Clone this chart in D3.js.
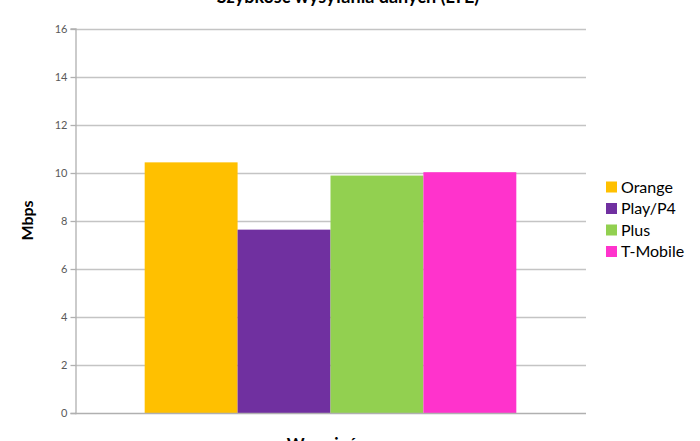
<!DOCTYPE html>
<html>
<head>
<meta charset="utf-8">
<script src="https://cdn.jsdelivr.net/npm/d3@7"></script>
<style>
  body { margin: 0; background: #fff; }
  svg { display: block; font-family: Lato, "Open Sans", sans-serif; }
</style>
</head>
<body>
<div id="chart"></div>
<script>
// data
var categories = ["Wrzesień"];
var seriesNames = ["Orange", "Play/P4", "Plus", "T-Mobile"];
var seriesValues = [10.43, 7.63, 9.88, 10.02];
var seriesColors = ["#FFC000", "#7030A0", "#92D050", "#FF33CC"];
var yTicks = [0, 2, 4, 6, 8, 10, 12, 14, 16];

//Width and height
var w = 700;
var h = 441;

//plot area (no "top" here, it clashes with window.top)
var plotLeft = 75, plotRight = 586, plotTop = 28.5, plotBottom = 413;

var svg = d3.select("#chart")
    .append("svg")
    .attr("width", w)
    .attr("height", h);

var y = d3.scaleLinear()
    .domain([0, 16])
    .range([plotBottom, plotTop]);

// gap width 150% like the spreadsheet default
var x0 = d3.scaleBand()
    .domain(categories)
    .range([plotLeft, plotRight])
    .paddingInner(0)
    .paddingOuter(0.1875);

var x1 = d3.scaleBand()
    .domain(seriesNames)
    .range([0, x0.bandwidth()]);

//gridlines
svg.append("g")
    .selectAll("line")
    .data(yTicks.slice(1))
    .enter().append("line")
    .attr("x1", plotLeft)
    .attr("x2", plotRight)
    .attr("y1", function (d) { return Math.round(y(d)) + 0.5; })
    .attr("y2", function (d) { return Math.round(y(d)) + 0.5; })
    .style("stroke", "#c4c4c4")
    .style("stroke-width", 1.3);

//y axis
var yAxis = d3.axisLeft(y)
    .tickValues(yTicks)
    .tickSize(5)
    .tickPadding(3);

var gy = svg.append("g")
    .attr("transform", "translate(" + (plotLeft + 0.5) + ",0)")
    .call(yAxis);
gy.select(".domain").style("stroke", "#b0b0b0").style("stroke-width", 1.3);
gy.selectAll(".tick line").style("stroke", "#b0b0b0").style("stroke-width", 1.3);
gy.selectAll(".tick").attr("transform", function (d) {
    return "translate(0," + (Math.round(y(d)) + 0.5) + ")";
});
gy.selectAll(".tick text")
    .style("font-family", "Lato, sans-serif")
    .style("font-size", "11px")
    .style("fill", "#595959");

//bars
var groups = svg.append("g")
    .selectAll("g")
    .data(categories)
    .enter().append("g")
    .attr("transform", function (d) { return "translate(" + x0(d) + ",0)"; });

groups.selectAll("rect")
    .data(function () {
        return seriesNames.map(function (s, j) {
            return { name: s, value: seriesValues[j], color: seriesColors[j] };
        });
    })
    .enter().append("rect")
    .attr("x", function (d) { return x1(d.name); })
    .attr("y", function (d) { return y(d.value); })
    .attr("width", x1.bandwidth())
    .attr("height", function (d) { return plotBottom - y(d.value); })
    .style("fill", function (d) { return d.color; });

//x axis line
svg.append("line")
    .attr("x1", plotLeft)
    .attr("x2", plotRight)
    .attr("y1", plotBottom + 0.5)
    .attr("y2", plotBottom + 0.5)
    .style("stroke", "#b0b0b0")
    .style("stroke-width", 1.3);

//title (cut off at the top)
svg.append("text")
    .text("Szybkość wysyłania danych (LTE)")
    .attr("x", 348)
    .attr("y", 3)
    .attr("font-size", 18)
    .attr("font-weight", "bold")
    .style("text-anchor", "middle")
    .style("fill", "#000");

//axis titles
svg.append("text")
    .text("Mbps")
    .attr("transform", "translate(33,220.5) rotate(-90)")
    .attr("font-size", 16)
    .attr("font-weight", "bold")
    .style("text-anchor", "middle")
    .style("fill", "#000");

//category title, only its top shows at the bottom edge
svg.append("text")
    .text(categories[0])
    .attr("x", 322)
    .attr("y", 450)
    .attr("font-size", 17)
    .attr("font-weight", "bold")
    .style("text-anchor", "middle")
    .style("fill", "#000");

//legend
var legend = svg.append("g")
    .selectAll("g")
    .data(seriesNames)
    .enter().append("g")
    .attr("transform", function (d, i) { return "translate(606," + (187 + i * 21.5) + ")"; });

legend.append("rect")
    .attr("x", 0)
    .attr("y", -5.5)
    .attr("width", 11)
    .attr("height", 11)
    .style("fill", function (d, i) { return seriesColors[i]; });

legend.append("text")
    .text(function (d) { return d; })
    .attr("x", 15)
    .attr("y", 5.5)
    .attr("font-size", 16)
    .style("fill", "#000");
</script>
</body>
</html>
